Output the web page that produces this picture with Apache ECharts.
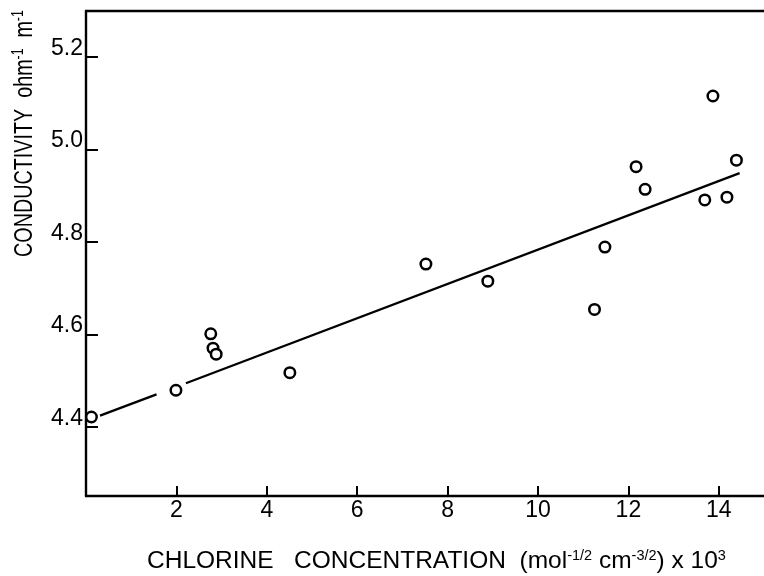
<!DOCTYPE html>
<html><head><meta charset="utf-8">
<script src="https://cdn.jsdelivr.net/npm/echarts@6/dist/echarts.min.js"></script>
<style>html,body{margin:0;padding:0;background:#fff}#c{width:764px;height:576px}</style>
</head><body><div id="c"></div>
<script>
// Chlorine concentration (x10^3) vs conductivity
const concX = [0.12, 1.99, 2.76, 2.81, 2.88, 4.51, 7.52, 8.89, 11.25, 11.48, 12.17, 12.37, 13.69, 13.87, 14.18, 14.39];
const conductivity = [4.421, 4.479, 4.601, 4.570, 4.557, 4.517, 4.752, 4.715, 4.654, 4.789, 4.963, 4.914, 4.891, 5.116, 4.897, 4.977];
// fitted line, drawn in two pieces (gap around the point at x=2)
const fitX1 = [0.31, 1.56];
const fitY1 = [4.424, 4.470];
const fitX2 = [2.21, 14.46];
const fitY2 = [4.494, 4.949];
const xTicks = [2, 4, 6, 8, 10, 12, 14];
const xTickLabels = ['2', '4', '6', '8', '10', '12', '14'];
const yTicks = [4.4, 4.6, 4.8, 5.0, 5.2];
const yTickLabels = ['4.4', '4.6', '4.8', '5.0', '5.2'];

const FONT = "'Liberation Sans', Arial, sans-serif";
const lbl = (ticks, labels) => v => {
  const i = ticks.findIndex(t => Math.abs(t - v) < 1e-6);
  return i >= 0 ? labels[i] : '';
};

const chart = echarts.init(document.getElementById('c'), null, {renderer: 'canvas'});
chart.setOption({
  animation: false,
  backgroundColor: '#fff',
  grid: {left: 86, right: 0, top: 11, bottom: 80},
  xAxis: [{
    type: 'value', min: 0, max: 15, position: 'bottom',
    axisLine: {onZero: false, lineStyle: {color: '#000', width: 2.4}},
    axisTick: {inside: true, length: 10, customValues: xTicks, lineStyle: {color: '#000', width: 2}},
    axisLabel: {customValues: xTicks, formatter: lbl(xTicks, xTickLabels), fontSize: 23, fontFamily: FONT, color: '#000', margin: 3},
    splitLine: {show: false}
  }, {
    type: 'value', min: 0, max: 15, position: 'top',
    axisLine: {onZero: false, lineStyle: {color: '#000', width: 2.4}},
    axisTick: {show: false}, axisLabel: {show: false}, splitLine: {show: false}
  }],
  yAxis: {
    type: 'value', min: 4.25, max: 5.3,
    axisLine: {onZero: false, lineStyle: {color: '#000', width: 2.4}},
    axisTick: {inside: true, length: 12, customValues: yTicks, lineStyle: {color: '#000', width: 2}},
    axisLabel: {customValues: yTicks, formatter: lbl(yTicks, yTickLabels), fontSize: 23, fontFamily: FONT, color: '#000',
      margin: 3, verticalAlign: 'bottom', lineHeight: 17},
    splitLine: {show: false}
  },
  series: [
    {type: 'line', data: fitX1.map((x, i) => [x, fitY1[i]]), showSymbol: false, symbol: 'none',
     lineStyle: {color: '#000', width: 2.3}, z: 2},
    {type: 'line', data: fitX2.map((x, i) => [x, fitY2[i]]), showSymbol: false, symbol: 'none',
     lineStyle: {color: '#000', width: 2.3}, z: 2},
    {type: 'scatter', data: concX.map((x, i) => [x, conductivity[i]]), symbol: 'circle', symbolSize: 10.5,
     itemStyle: {color: '#fff', borderColor: '#000', borderWidth: 2.5, opacity: 1}, z: 3}
  ],
  graphic: [
    {
      type: 'text', x: 147, y: 561, silent: true,
      style: {
        text: '{a|CHLORINE   CONCENTRATION}{a|  (mol}{s|-1/2}{a| cm}{s|-3/2}{a|) x 10}{s|3}',
        fill: '#000', align: 'left', verticalAlign: 'middle', font: '24px ' + FONT,
        rich: {
          a: {fontSize: 24.5, fontFamily: FONT, fill: '#000', lineHeight: 26},
          s: {fontSize: 14.5, fontFamily: FONT, fill: '#000', lineHeight: 14, verticalAlign: 'top'}
        }
      }
    },
    {
      type: 'text', x: 25, y: 257, rotation: Math.PI / 2, scaleX: 0.76, silent: true,
      style: {
        text: '{a|CONDUCTIVITY  ohm}{s|-1}{a|  m}{s|-1}',
        fill: '#000', align: 'left', verticalAlign: 'middle', font: '26px ' + FONT,
        rich: {
          a: {fontSize: 26, fontFamily: FONT, fill: '#000', lineHeight: 28},
          s: {fontSize: 16, fontFamily: FONT, fill: '#000', lineHeight: 15, verticalAlign: 'top'}
        }
      }
    }
  ]
});
</script></body></html>
